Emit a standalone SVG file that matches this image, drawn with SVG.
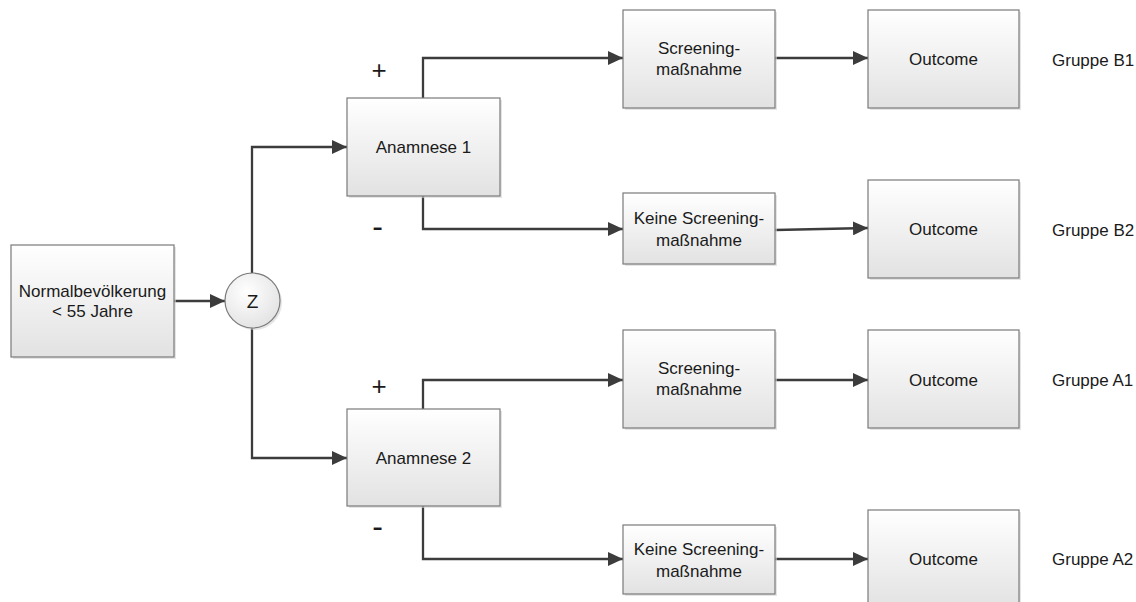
<svg xmlns="http://www.w3.org/2000/svg" width="1136" height="602" viewBox="0 0 1136 602">
<style>
.box{fill:url(#g);stroke:#7a7a7a;stroke-width:1.2}
.sh{fill:#d4d4d4;opacity:0.6}
.t{font-family:"Liberation Sans",Arial,sans-serif;font-size:17px;fill:#1a1a1a;text-anchor:middle}
.lbl{font-family:"Liberation Sans",Arial,sans-serif;font-size:17px;fill:#1a1a1a}
.pm{font-family:"Liberation Sans",Arial,sans-serif;fill:#1a1a1a;text-anchor:middle}
.c{fill:none;stroke:#3c3c3c;stroke-width:2.3;marker-end:url(#a)}
</style>
<defs>
<linearGradient id="g" x1="0" y1="0" x2="0" y2="1">
<stop offset="0" stop-color="#ffffff"/>
<stop offset="1" stop-color="#e2e2e2"/>
</linearGradient>
<radialGradient id="rg" cx="0.4" cy="0.35" r="0.7">
<stop offset="0" stop-color="#ffffff"/>
<stop offset="1" stop-color="#e2e2e2"/>
</radialGradient>
<marker id="a" markerWidth="15" markerHeight="14" refX="15" refY="7" orient="auto" markerUnits="userSpaceOnUse">
<path d="M0,0 L15,7 L0,14 Z" fill="#3c3c3c"/>
</marker>
</defs>
<rect width="1136" height="602" fill="#ffffff"/>

<g id="connectors">
<path class="c" d="M174,301 H225"/>
<path class="c" d="M252,273 V147 H347"/>
<path class="c" d="M252,328 V458 H347"/>
<path class="c" d="M423,98 V58 H623"/>
<path class="c" d="M423,196 V229 H623"/>
<path class="c" d="M423,409 V380 H623"/>
<path class="c" d="M423,506 V559 H623"/>
<path class="c" d="M775,58 H868"/>
<path class="c" d="M775,230 L868,228"/>
<path class="c" d="M775,380 H868"/>
<path class="c" d="M775,559 H868"/>
</g>

<g id="n-normal">
<rect class="sh" x="13" y="247" width="163" height="112"/>
<rect class="box" x="11" y="245" width="163" height="112"/>
<text class="t" x="92.5" y="297">Normalbevölkerung</text>
<text class="t" x="92.5" y="317">&lt; 55 Jahre</text>
</g>

<g id="n-z">
<circle cx="254.5" cy="302.5" r="27.5" fill="#d4d4d4" opacity="0.6"/>
<circle cx="252.5" cy="300.5" r="27.5" fill="url(#rg)" stroke="#7a7a7a" stroke-width="1.2"/>
<text class="pm" x="252.5" y="307.5" font-size="19">Z</text>
</g>

<g id="n-anam1">
<rect class="sh" x="349" y="100" width="153" height="98"/>
<rect class="box" x="347" y="98" width="153" height="98"/>
<text class="t" x="423.5" y="153">Anamnese 1</text>
</g>

<g id="n-anam2">
<rect class="sh" x="349" y="411" width="153" height="97"/>
<rect class="box" x="347" y="409" width="153" height="97"/>
<text class="t" x="423.5" y="464">Anamnese 2</text>
</g>

<g id="n-scr1">
<rect class="sh" x="625" y="12" width="152" height="98"/>
<rect class="box" x="623" y="10" width="152" height="98"/>
<text class="t" x="699" y="54">Screening-</text>
<text class="t" x="699" y="75">maßnahme</text>
</g>

<g id="n-keine1">
<rect class="sh" x="625" y="195" width="152" height="71"/>
<rect class="box" x="623" y="193" width="152" height="71"/>
<text class="t" x="699" y="224">Keine Screening-</text>
<text class="t" x="699" y="246">maßnahme</text>
</g>

<g id="n-scr2">
<rect class="sh" x="625" y="332" width="152" height="98"/>
<rect class="box" x="623" y="330" width="152" height="98"/>
<text class="t" x="699" y="374">Screening-</text>
<text class="t" x="699" y="395">maßnahme</text>
</g>

<g id="n-keine2">
<rect class="sh" x="625" y="527" width="152" height="69"/>
<rect class="box" x="623" y="525" width="152" height="69"/>
<text class="t" x="699" y="555">Keine Screening-</text>
<text class="t" x="699" y="577">maßnahme</text>
</g>

<g id="n-out1">
<rect class="sh" x="870" y="12" width="151" height="98"/>
<rect class="box" x="868" y="10" width="151" height="98"/>
<text class="t" x="943.5" y="65">Outcome</text>
</g>

<g id="n-out2">
<rect class="sh" x="870" y="182" width="151" height="98"/>
<rect class="box" x="868" y="180" width="151" height="98"/>
<text class="t" x="943.5" y="235">Outcome</text>
</g>

<g id="n-out3">
<rect class="sh" x="870" y="332" width="151" height="98"/>
<rect class="box" x="868" y="330" width="151" height="98"/>
<text class="t" x="943.5" y="386">Outcome</text>
</g>

<g id="n-out4">
<rect class="sh" x="870" y="512" width="151" height="98"/>
<rect class="box" x="868" y="510" width="151" height="98"/>
<text class="t" x="943.5" y="565">Outcome</text>
</g>

<g id="labels">
<text class="lbl" x="1052" y="66">Gruppe B1</text>
<text class="lbl" x="1052" y="236">Gruppe B2</text>
<text class="lbl" x="1052" y="386">Gruppe A1</text>
<text class="lbl" x="1052" y="565">Gruppe A2</text>
<text class="pm" x="379" y="78.5" font-size="26">+</text>
<text class="pm" x="377.5" y="236.5" font-size="32">-</text>
<text class="pm" x="379" y="394.5" font-size="26">+</text>
<text class="pm" x="377.5" y="536.5" font-size="32">-</text>
</g>
</svg>
